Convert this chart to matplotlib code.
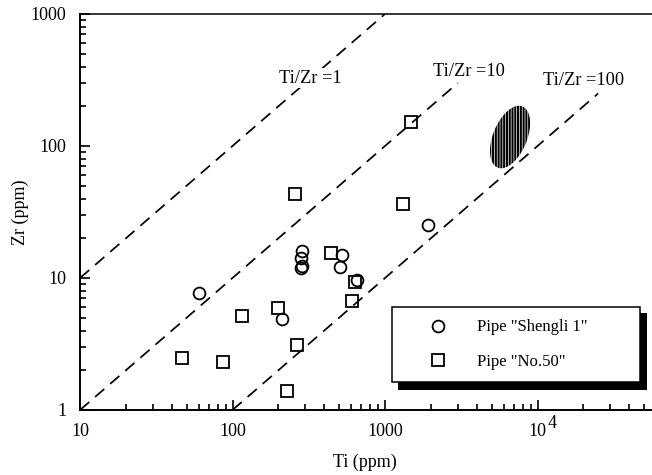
import matplotlib
matplotlib.use('Agg')
import matplotlib.pyplot as plt
import numpy as np
from matplotlib.patches import Rectangle
from matplotlib.ticker import FixedLocator, FixedFormatter, LogLocator, NullFormatter

plt.rcParams['font.family'] = ['Liberation Serif', 'DejaVu Serif']
plt.rcParams['hatch.linewidth'] = 1.5

# ---- data ----
shengli_ti = [60, 211, 286, 281, 286, 281, 522, 507, 655, 1915]
shengli_zr = [7.7, 4.9, 16.0, 14.2, 12.3, 11.9, 14.9, 12.1, 9.7, 25.2]
no50_ti = [47, 87, 115, 199, 228, 265, 257, 443, 635, 608, 1313, 1480]
no50_zr = [2.48, 2.31, 5.15, 5.9, 1.39, 3.1, 43.3, 15.5, 9.3, 6.7, 36.4, 152]

ratios = [1, 10, 100]
ratio_ti_start = [10, 10, 100]
ratio_ti_end = [1000, 3000, 25000]
ratio_labels = ['Ti/Zr =1', 'Ti/Zr =10', 'Ti/Zr =100']
ratio_label_ti = [322, 3560, 19900]
ratio_label_zr = [327, 364, 316]

# hatched field (ellipse in log space): centre log10(Ti), log10(Zr)
field_center = (3.820, 2.068)

xticks = [10, 100, 1000, 10000]
xticklabels = ['10', '100', '1000', '10']
yticks = [1, 10, 100, 1000]
yticklabels = ['1', '10', '100', '1000']

W, H = 652, 475
fig = plt.figure(figsize=(W / 100, H / 100), dpi=100)
ax = fig.add_axes([80 / W, 65 / H, 572 / W, 396 / H])
ax.set_xscale('log')
ax.set_yscale('log')
ax.set_xlim(10, 10 ** (1 + 572 / 152.5))
ax.set_ylim(1, 1000)

# ratio lines
for r, ts, te, lab, lx, ly in zip(ratios, ratio_ti_start, ratio_ti_end,
                                  ratio_labels, ratio_label_ti, ratio_label_zr):
    ax.plot([ts, te], [ts / r, te / r], color='black', lw=1.25,
            ls=(0, (7, 4.5)), zorder=2)
    ax.text(lx, ly, lab, fontsize=13.2, ha='center', va='center', zorder=3,
            bbox=dict(facecolor='white', edgecolor='none', pad=1.0))

# hatched field
t = np.linspace(0, 2 * np.pi, 200)
th = np.deg2rad(68)
a, b = 33, 17  # pixel semi-axes
px = a * np.cos(th) * np.cos(t) - b * np.sin(th) * np.sin(t)
py = a * np.sin(th) * np.cos(t) + b * np.cos(th) * np.sin(t)
lx = field_center[0] + px / 152.5
ly = field_center[1] + py / 132.0
ax.fill(10 ** lx, 10 ** ly, facecolor='none', edgecolor='black',
        hatch='||||||', linewidth=0, zorder=2)

# data
h1, = ax.plot(shengli_ti, shengli_zr, ls='none', marker='o', ms=8.5,
              mfc='none', mec='black', mew=1.3, zorder=4)
h2, = ax.plot(no50_ti, no50_zr, ls='none', marker='s', ms=8.0,
              mfc='none', mec='black', mew=1.3, zorder=4)

# axes styling
ax.spines['right'].set_visible(False)
ax.spines['left'].set_linewidth(1.4)
ax.spines['bottom'].set_linewidth(1.4)
ax.spines['top'].set_linewidth(1.1)
ax.xaxis.set_major_locator(FixedLocator(xticks))
ax.xaxis.set_major_formatter(FixedFormatter(xticklabels))
ax.yaxis.set_major_locator(FixedLocator(yticks))
ax.yaxis.set_major_formatter(FixedFormatter(yticklabels))
ax.xaxis.set_minor_locator(LogLocator(base=10, subs=np.arange(2, 10)))
ax.yaxis.set_minor_locator(LogLocator(base=10, subs=np.arange(2, 10)))
ax.xaxis.set_minor_formatter(NullFormatter())
ax.yaxis.set_minor_formatter(NullFormatter())
ax.tick_params(which='both', direction='in', top=False, right=False,
               width=1.2, labelsize=13)
ax.tick_params(which='major', length=7)
ax.tick_params(which='minor', length=4)
ax.tick_params(axis='x', pad=9)
ax.tick_params(axis='y', pad=10)
# exponent of the 10^4 label, written beside it as in the original
fig.text(548 / W, 1 - 423 / H, '4', fontsize=13, ha='left', va='center')

fig.text(365 / W, 1 - 462 / H, 'Ti (ppm)', fontsize=13, ha='center', va='center')
fig.text(20 / W, 1 - 212 / H, 'Zr (ppm)', fontsize=13, ha='center', va='center',
         rotation=90)

# legend box with shadow
def fig_rect(x0, y0, x1, y1, **kw):
    return Rectangle((x0 / W, 1 - y1 / H), (x1 - x0) / W, (y1 - y0) / H,
                     transform=fig.transFigure, clip_on=False, **kw)

ax.add_patch(fig_rect(398, 313, 647, 390, facecolor='black', edgecolor='none',
                      zorder=5))
ax.add_patch(fig_rect(392, 307, 640, 382, facecolor='white', edgecolor='black',
                      linewidth=1.1, zorder=5.5))
leg = ax.legend([h1, h2], ['Pipe "Shengli 1"', 'Pipe "No.50"'],
                loc='center left', bbox_to_anchor=(430 / W, 1 - 344.5 / H),
                bbox_transform=fig.transFigure, frameon=False, borderpad=0,
                borderaxespad=0, handlelength=1.0, handletextpad=1.8,
                labelspacing=1.1, fontsize=12)
leg.set_zorder(6)

fig.savefig('out.png', dpi=100)
